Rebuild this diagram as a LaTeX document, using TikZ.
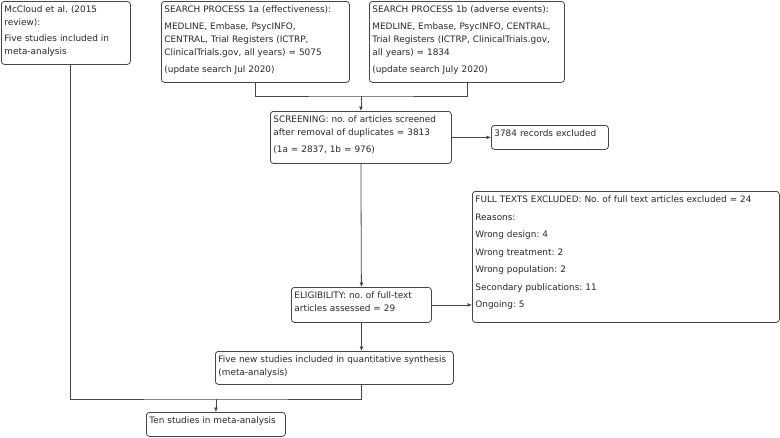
\documentclass[tikz,border=0pt]{standalone}
\usepackage{fontspec}
\setmainfont{DejaVu Sans}
\usepackage{tikz}
\usetikzlibrary{arrows.meta,calc,positioning}
\definecolor{boxline}{RGB}{70,70,70}
\definecolor{flowtext}{RGB}{40,40,40}
\frenchspacing

\begin{document}
\begin{tikzpicture}[
  x=1pt, y=-1pt,
  font=\fontsize{8.9}{13}\selectfont,
  flow/.style={draw=boxline, line width=0.8pt, rounded corners=3pt, anchor=north west, align=left,
    inner xsep=3pt, inner ysep=2pt, text height=9.3pt, text=flowtext},
  arr/.style={-{Latex[length=4.5pt,width=4pt]}, line width=0.8pt, boxline},
  link/.style={line width=0.8pt, boxline}
]
\useasboundingbox (0,0) rectangle (780,437);
\node[flow, text width=123pt, text depth=49.7pt] (mccloud) at (1,1) {McCloud et al. (2015\\review):\\[3pt]Five studies included in\\meta-analysis};
\node[flow, text width=182pt, text depth=67.7pt] (searcha) at (161,1) {SEARCH PROCESS 1a (effectiveness):\\[4pt]MEDLINE, Embase, PsycINFO,\\CENTRAL, Trial Registers (ICTRP,\\ClinicalTrials.gov, all years) = 5075\\[4pt](update search Jul 2020)};
\node[flow, text width=189pt, text depth=67.7pt] (searchb) at (369,1) {SEARCH PROCESS 1b (adverse events):\\[4pt]MEDLINE, Embase, PsycINFO, CENTRAL,\\Trial Registers (ICTRP, ClinicalTrials.gov,\\all years) = 1834\\[4pt](update search July 2020)};
\node[flow, text width=175pt, text depth=38.7pt] (screen) at (270,111) {SCREENING: no. of articles screened\\after removal of duplicates = 3813\\[4pt](1a = 2837, 1b = 976)};
\node[flow, text width=111pt, text depth=10.7pt] (excl) at (491,125) {3784 records excluded};
\node[flow, text width=301pt, text depth=117.7pt] (fulltext) at (472,191) {FULL TEXTS EXCLUDED: No. of full text articles excluded = 24\\[4.5pt]Reasons:\\[4.5pt]Wrong design: 4\\[4.5pt]Wrong treatment: 2\\[4.5pt]Wrong population: 2\\[4.5pt]Secondary publications: 11\\[4.5pt]Ongoing: 5};
\node[flow, text width=134pt, text depth=21.7pt] (elig) at (291,287) {ELIGIBILITY: no. of full-text\\articles assessed = 29};
\node[flow, text width=232pt, text depth=19.7pt] (fivenew) at (215,351) {Five new studies included in quantitative synthesis\\(meta-analysis)};
\node[flow, text width=133pt, text depth=10.7pt] (ten) at (146,412) {Ten studies in meta-analysis};

% joins of the connectors
\coordinate (topjoin) at (screen.north |- 0,96);
\coordinate (lowjoin) at (ten.north |- 0,399);

\draw[link] (searcha.south) |- (topjoin) -| (searchb.south);
\draw[arr] (topjoin) -- (screen.north);
\draw[arr] (screen.east) -- (excl.west |- screen.east);
\draw[arr] (screen.south) -- (elig.north);
\draw[arr] (elig.east) -- (fulltext.west |- elig.east);
\draw[arr] (elig.south) -- (elig.south |- fivenew.north);
\draw[link] ([xshift=4.5pt]mccloud.south) |- (lowjoin) -| (elig.south |- fivenew.south);
\draw[arr] (lowjoin) -- (ten.north);
\end{tikzpicture}
\end{document}
